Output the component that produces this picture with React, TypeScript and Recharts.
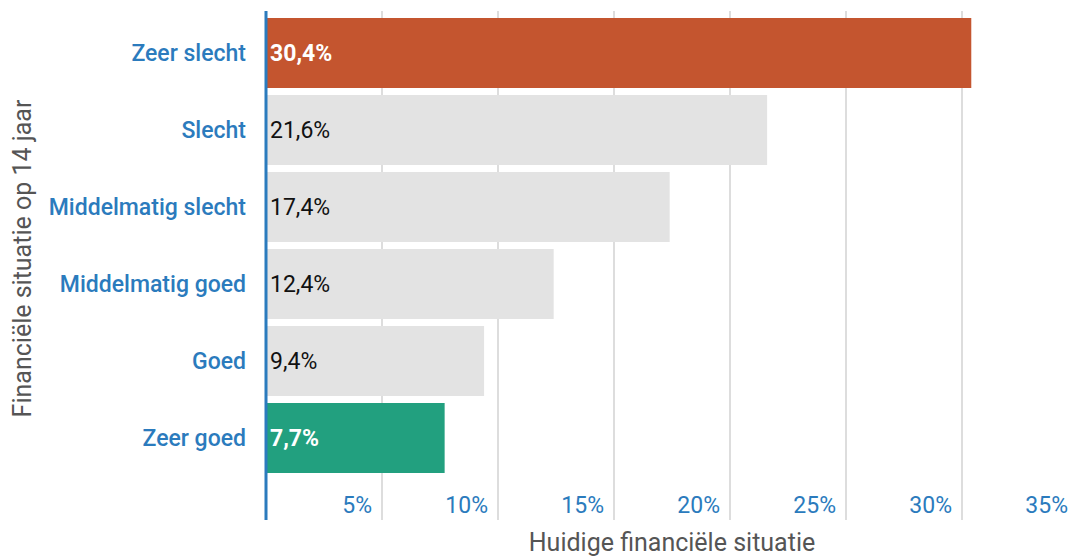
import { BarChart, Bar, XAxis, YAxis, CartesianGrid, Cell, LabelList } from "recharts";

const categories = ["Zeer slecht", "Slecht", "Middelmatig slecht", "Middelmatig goed", "Goed", "Zeer goed"];
const shares = [30.4, 21.6, 17.4, 12.4, 9.4, 7.7];
const barColors = ["#c4552f", "#e3e3e3", "#e3e3e3", "#e3e3e3", "#e3e3e3", "#22a07f"];
const xTicks = [0, 5, 10, 15, 20, 25, 30, 35];

const data = categories.map((name, i) => ({ name, value: shares[i], color: barColors[i] }));

const BLUE = "#2b7bbd";
const FONT = "Roboto, sans-serif";

const fmt = (v: number) => `${v.toFixed(1).replace(".", ",")}%`;

function XTick(props: any) {
    const { x, y, payload } = props;
    if (payload.value === 0) return null;
    return (
        <text x={x - 10} y={y - 15} textAnchor="end" dominantBaseline="central" fill={BLUE} fontSize={23} fontFamily={FONT}>
            {payload.value}%
        </text>
    );
}

function BarValue(props: any) {
    const { x, y, height, value, index } = props;
    const colored = barColors[index] !== "#e3e3e3";
    return (
        <text
            x={x + 4}
            y={y + height / 2}
            dominantBaseline="central"
            fill={colored ? "#ffffff" : "#111111"}
            fontSize={23}
            fontWeight={colored ? 700 : 400}
            fontFamily={FONT}
        >
            {fmt(value)}
        </text>
    );
}

export default function App() {
    return (
        <div style={{ width: 1071, height: 559, overflow: "hidden" }}>
            <style>{"body{margin:0;overflow:hidden}"}</style>
            <BarChart
                width={1090}
                height={559}
                data={data}
                layout="vertical"
                margin={{ top: 11, right: 12, left: 0, bottom: 0 }}
                barSize={70}
            >
                <CartesianGrid horizontal={false} stroke="#dddddd" strokeWidth={2} />
                <XAxis
                    type="number"
                    domain={[0, 35]}
                    ticks={xTicks}
                    axisLine={false}
                    tickLine={false}
                    tickSize={0}
                    tickMargin={0}
                    tick={<XTick />}
                    height={39}
                    label={{
                        value: "Huidige financiële situatie",
                        position: "insideBottom",
                        offset: 0,
                        dy: -8,
                        fill: "#555555",
                        fontSize: 25,
                        fontFamily: FONT,
                    }}
                />
                <YAxis
                    type="category"
                    dataKey="name"
                    width={266}
                    axisLine={{ stroke: BLUE, strokeWidth: 3 }}
                    tickLine={false}
                    tickSize={0}
                    tickMargin={20}
                    padding={{ top: 3, bottom: 44 }}
                    tick={{ fill: BLUE, fontSize: 23, fontWeight: 500, fontFamily: FONT }}
                    label={{
                        value: "Financiële situatie op 14 jaar",
                        angle: -90,
                        position: "insideLeft",
                        offset: 0,
                        content: (p: any) => {
                            const vb = p.viewBox;
                            const cy = vb.y + vb.height / 2 - 7;
                            return (
                                <text
                                    x={22}
                                    y={cy}
                                    transform={`rotate(-90 22 ${cy})`}
                                    textAnchor="middle"
                                    dominantBaseline="central"
                                    fill="#555555"
                                    fontSize={25}
                                    fontFamily={FONT}
                                >
                                    Financiële situatie op 14 jaar
                                </text>
                            );
                        },
                    }}
                />
                <Bar dataKey="value" isAnimationActive={false}>
                    {data.map((d) => (
                        <Cell key={d.name} fill={d.color} />
                    ))}
                    <LabelList dataKey="value" content={<BarValue />} />
                </Bar>
            </BarChart>
        </div>
    );
}
